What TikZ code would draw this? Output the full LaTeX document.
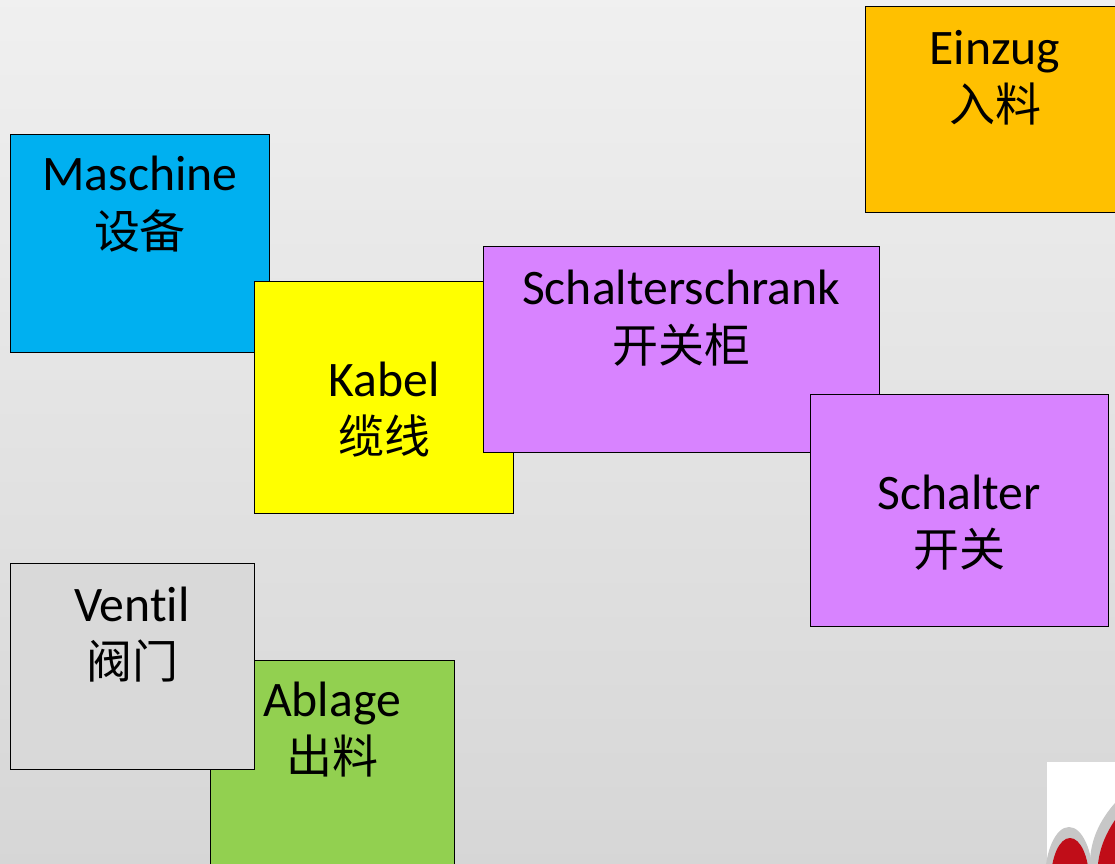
\documentclass[tikz,border=0pt]{standalone}
\usepackage{fontspec}
\setmainfont[Scale=1.08,Ligatures=NoCommon]{Carlito}
\newfontfamily\cjk{Noto Sans CJK SC}
\usetikzlibrary{positioning}
\definecolor{bluebox}{HTML}{00B0F0}
\definecolor{yellowbox}{HTML}{FFFF00}
\definecolor{purplebox}{HTML}{D883FF}
\definecolor{orangebox}{HTML}{FFC000}
\definecolor{greybox}{HTML}{D9D9D9}
\definecolor{greenbox}{HTML}{92D050}
\definecolor{redheart}{HTML}{C00D18}
\tikzset{
   part/.style={draw=black,line width=0.7pt,inner sep=0pt},
   caption/.style={align=center,inner sep=0pt,font=\fontsize{34.5}{43}\selectfont}
}
\begin{document}
\begin{tikzpicture}[x=0.75pt,y=-0.75pt,node distance=0pt]
   \useasboundingbox (0,0) rectangle (1115,864);
   \clip (0,0) rectangle (1115,864);
   \shade[top color=white!94!black,bottom color=white!84!black] (0,0) rectangle (1115,864);

   \node[part,fill=orangebox,minimum width=194.5pt,minimum height=154pt] (einzug) at (995,109.5) {};
   \node[caption,below=17.5pt of einzug.north] (einzugtext) {Einzug\\{\cjk 入料}};

   \node[part,fill=bluebox,minimum width=194.5pt,minimum height=163.5pt] (maschine) at (140,243) {};
   \node[part,fill=yellowbox,minimum width=194.5pt,minimum height=173.5pt] (kabel) at (384,397.5) {};
   \node[part,fill=purplebox,minimum width=297pt,minimum height=154.5pt] (schrank) at (681,349) {};
   \node[part,fill=purplebox,minimum width=223.5pt,minimum height=173.5pt] (schalter) at (959,510.5) {};
   \node[caption,below=17pt of maschine.north] (maschinetext) {Maschine\\{\cjk 设备}};
   \node[caption,below=60pt of kabel.north] (kabeltext) {Kabel\\{\cjk 缆线}};
   \node[caption,below=18.5pt of schrank.north] (schranktext) {Schalterschrank\\{\cjk 开关柜}};
   \node[caption,below=60pt of schalter.north] (schaltertext) {Schalter\\{\cjk 开关}};

   \node[part,fill=greenbox,minimum width=183pt,minimum height=173pt] (ablage) at (332,775.5) {};
   \node[part,fill=greybox,minimum width=183pt,minimum height=154.5pt] (ventil) at (132,666) {};
   \node[caption,below=18pt of ventil.north] (ventiltext) {Ventil\\{\cjk 阀门}};
   \node[caption,below=16.5pt of ablage.north] (ablagetext) {Ablage\\{\cjk 出料}};

   \fill[white] (1047,762) rectangle (1115,864);
   \fill[black!22] (1090,864) .. controls (1090,840) and (1100,820) .. (1115,803) -- (1115,864) -- cycle;
   \fill[redheart] (1098,864) .. controls (1100,846) and (1107,832) .. (1115,820) -- (1115,864) -- cycle;
   \fill[black!22] (1069,880) ellipse (24 and 53);
   \fill[redheart] (1070,880) ellipse (19 and 42);
\end{tikzpicture}
\end{document}
